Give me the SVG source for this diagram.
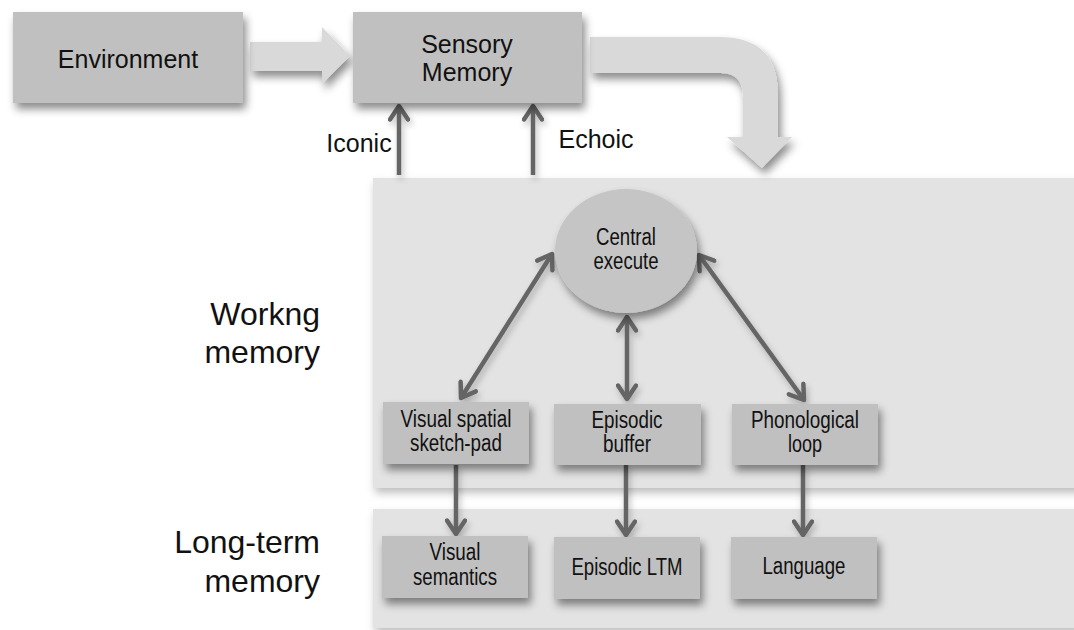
<svg xmlns="http://www.w3.org/2000/svg" width="1074" height="630" viewBox="0 0 1074 630">
<style>
.box{fill:#c0c0c0;filter:url(#sh);}
.panel{fill:#e3e3e3;filter:url(#shp);}
.big{fill:#d9d9d9;filter:url(#sh);}
.t{font-family:"Liberation Sans",Arial,sans-serif;fill:#111;text-anchor:middle;}
.n{font-size:25px;}
.c{font-size:23px;}
.lbl{font-family:"Liberation Sans",Arial,sans-serif;font-size:32px;fill:#111;text-anchor:end;}
.con{stroke:#656565;stroke-width:4.5;fill:none;}
</style>
<defs>
<filter id="sh" x="-20%" y="-20%" width="150%" height="160%">
<feDropShadow dx="3" dy="6" stdDeviation="4" flood-color="#000" flood-opacity="0.45"/>
</filter>
<filter id="shp" x="-10%" y="-10%" width="130%" height="130%">
<feDropShadow dx="2" dy="5" stdDeviation="4" flood-color="#000" flood-opacity="0.25"/>
</filter>
<filter id="shc" filterUnits="userSpaceOnUse" x="0" y="0" width="1074" height="630">
<feDropShadow dx="2" dy="4" stdDeviation="3" flood-color="#000" flood-opacity="0.25"/>
</filter>
<marker id="ah" viewBox="0 0 20 20" refX="16" refY="10" markerWidth="5" markerHeight="5" orient="auto-start-reverse" markerUnits="strokeWidth">
<path d="M4,2 L16,10 L4,18" fill="none" stroke="#656565" stroke-width="4" stroke-linecap="round" stroke-linejoin="round"/>
</marker>
</defs>
<rect width="1074" height="630" fill="#fff"/>

<g id="panel-wm"><rect class="panel" x="373" y="178" width="710" height="310"/></g>
<g id="panel-ltm"><rect class="panel" x="373" y="509" width="710" height="119"/></g>

<g id="flow-arrows">
<path class="big" d="M250,42 L322,42 L322,27 L350,56 L322,84 L322,71 L250,71 Z"/>
<path class="big" d="M590,37 L720,37 Q778,37 778,95 L778,137 L792,137 L762,168 L727,137 L743,137 L743,97 Q743,73 721,73 L590,73 Z"/>
</g>

<g id="connectors" filter="url(#shc)">
<line class="con" x1="399" y1="175" x2="399" y2="106" marker-end="url(#ah)"/>
<line class="con" x1="533" y1="175" x2="533" y2="106" marker-end="url(#ah)"/>
<line class="con" x1="461" y1="398" x2="552" y2="254" marker-start="url(#ah)" marker-end="url(#ah)"/>
<line class="con" x1="627" y1="317" x2="627" y2="399" marker-start="url(#ah)" marker-end="url(#ah)"/>
<line class="con" x1="699" y1="255" x2="804" y2="400" marker-start="url(#ah)" marker-end="url(#ah)"/>
<line class="con" x1="456" y1="465" x2="456" y2="534" marker-end="url(#ah)"/>
<line class="con" x1="626" y1="465" x2="626" y2="535" marker-end="url(#ah)"/>
<line class="con" x1="803" y1="465" x2="803" y2="535" marker-end="url(#ah)"/>
</g>

<g id="environment">
<rect class="box" x="13" y="12" width="230" height="91"/>
<text class="t n" x="128" y="68">Environment</text>
</g>
<g id="sensory-memory">
<rect class="box" x="353" y="12" width="229" height="91"/>
<text class="t n" x="467" y="53">Sensory</text>
<text class="t n" x="467" y="81">Memory</text>
</g>
<text class="t n" x="359" y="152">Iconic</text>
<text class="t n" x="596" y="148">Echoic</text>

<g id="central-execute">
<ellipse cx="626" cy="251" rx="71" ry="62" fill="#c5c5c5" filter="url(#sh)"/>
<text class="t c" x="626" y="245" textLength="60" lengthAdjust="spacingAndGlyphs">Central</text>
<text class="t c" x="626" y="269" textLength="65" lengthAdjust="spacingAndGlyphs">execute</text>
</g>

<g id="visual-spatial">
<rect class="box" x="383" y="402" width="146" height="62"/>
<text class="t c" x="456" y="427" textLength="111" lengthAdjust="spacingAndGlyphs">Visual spatial</text>
<text class="t c" x="456" y="451" textLength="92" lengthAdjust="spacingAndGlyphs">sketch-pad</text>
</g>
<g id="episodic-buffer">
<rect class="box" x="554" y="404" width="147" height="61"/>
<text class="t c" x="627" y="428" textLength="71" lengthAdjust="spacingAndGlyphs">Episodic</text>
<text class="t c" x="627" y="452" textLength="48" lengthAdjust="spacingAndGlyphs">buffer</text>
</g>
<g id="phonological-loop">
<rect class="box" x="732" y="404" width="146" height="61"/>
<text class="t c" x="805" y="428" textLength="108" lengthAdjust="spacingAndGlyphs">Phonological</text>
<text class="t c" x="805" y="452" textLength="34" lengthAdjust="spacingAndGlyphs">loop</text>
</g>

<g id="visual-semantics">
<rect class="box" x="382" y="536" width="146" height="62"/>
<text class="t c" x="455" y="560" textLength="51" lengthAdjust="spacingAndGlyphs">Visual</text>
<text class="t c" x="455" y="585" textLength="84" lengthAdjust="spacingAndGlyphs">semantics</text>
</g>
<g id="episodic-ltm">
<rect class="box" x="554" y="537" width="146" height="62"/>
<text class="t c" x="627" y="575" textLength="111" lengthAdjust="spacingAndGlyphs">Episodic LTM</text>
</g>
<g id="language">
<rect class="box" x="731" y="537" width="146" height="62"/>
<text class="t c" x="804" y="574" textLength="83" lengthAdjust="spacingAndGlyphs">Language</text>
</g>

<g id="labels">
<text class="lbl" x="320" y="325">Workng</text>
<text class="lbl" x="320" y="363">memory</text>
<text class="lbl" x="320" y="553">Long-term</text>
<text class="lbl" x="320" y="592">memory</text>
</g>
</svg>
